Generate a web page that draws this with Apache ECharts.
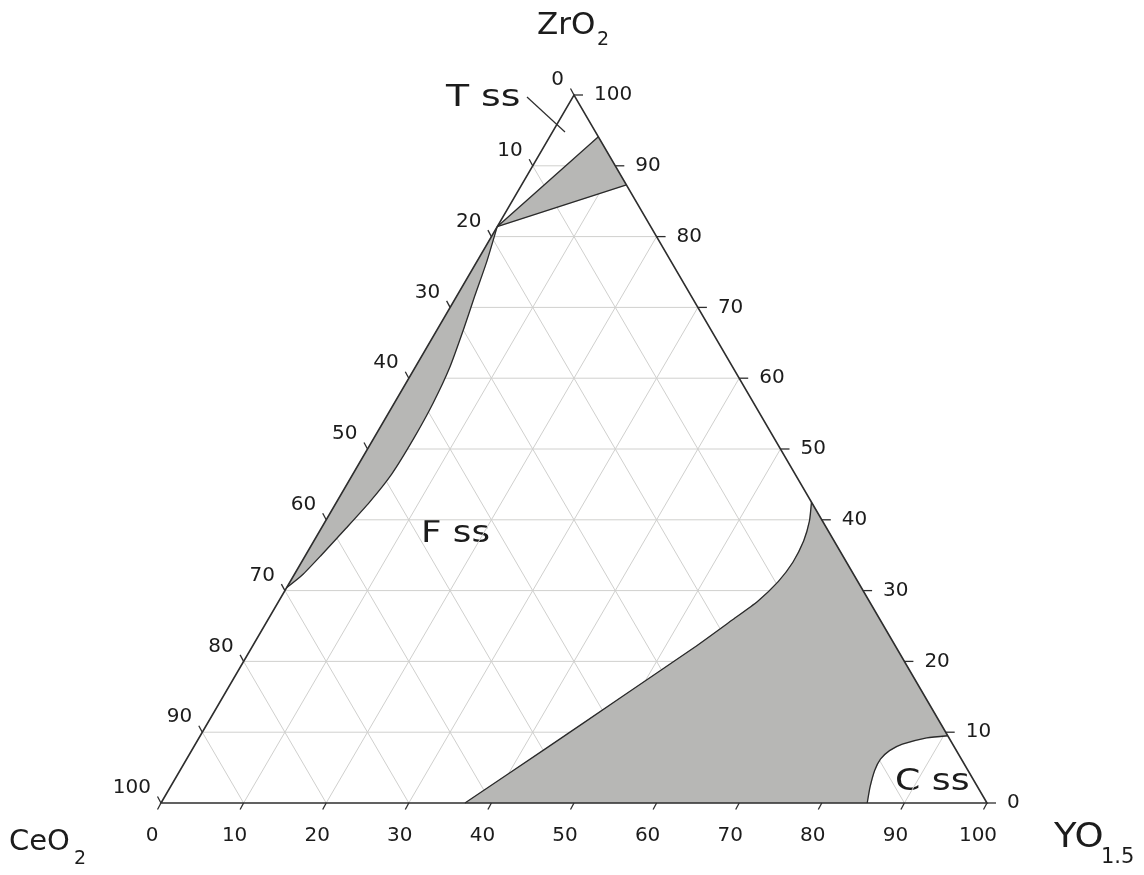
<!DOCTYPE html>
<html>
<head>
<meta charset="utf-8">
<script src="https://cdn.jsdelivr.net/npm/echarts@6/dist/echarts.min.js"></script>
<style>
  html, body { margin: 0; padding: 0; background: #ffffff; }
  #chart { width: 1144px; height: 875px; }
</style>
</head>
<body>
<div id="chart"></div>
<script>
// Axis ticks (mol %), shared by the three sides
const tickValues = [0, 10, 20, 30, 40, 50, 60, 70, 80, 90, 100];
const gridSteps = [10, 20, 30, 40, 50, 60, 70, 80, 90];

// Phase boundaries as [YO1.5, ZrO2] pairs (CeO2 is the remainder)
// T + F field near the ZrO2 corner
const tfUpper = [[0, 81.4], [5.9, 94.1]];
const tfLower = [[0, 81.4], [12.7, 87.3]];

// two-phase sliver along the CeO2–ZrO2 side
const sliverCurve = [
  [0, 81.4], [1.2, 76.5], [2.2, 71.5], [3.2, 66.8], [4.2, 61.5], [4.7, 56.5],
  [4.85, 51.5], [4.7, 46.5], [4.0, 42.5], [3.0, 38.8], [1.9, 35.0], [1.0, 32.2], [0, 30.4]
];

// F + C field towards YO1.5
const fcBoundary = [
  [36.8, 0], [42.6, 7.5], [48.3, 15.0], [53.6, 22.0], [56.2, 25.8], [58.0, 28.5],
  [59.1, 31.3], [59.5, 34.0], [59.3, 37.0], [58.6, 39.8], [57.5, 42.5]
];

// C ss single-phase field at the YO1.5 corner
const cssBoundary = [
  [90.5, 9.5], [88.1, 9.2], [85.6, 8.3], [84.5, 7.4], [84.0, 6.2],
  [84.1, 4.6], [84.7, 2.3], [85.5, 0]
];

const H = Math.sqrt(3) / 2;
// ternary (YO1.5, ZrO2) -> cartesian (x, y) in axis units
function tern(y, z) { return [y + z / 2, z * H]; }

// two-phase regions as closed outlines, plus their boundary lines
const regions = [
  { outline: [tfUpper[0], tfUpper[1], tfLower[1]], curves: [tfUpper, tfLower] },
  { outline: sliverCurve, curves: [sliverCurve] },
  { outline: fcBoundary.concat(cssBoundary), curves: [fcBoundary, cssBoundary] }
];

// grid lines: constant ZrO2, constant YO1.5, constant CeO2
const gridLines = [];
gridSteps.forEach(function (s) {
  gridLines.push(tern(0, s).concat(tern(100 - s, s)));
  gridLines.push(tern(s, 0).concat(tern(s, 100 - s)));
  gridLines.push(tern(100 - s, 0).concat(tern(0, 100 - s)));
});

const FONT = '"DejaVu Sans", Verdana, sans-serif';
const INK = '#1c1c1c';

const chart = echarts.init(document.getElementById('chart'), null, { renderer: 'canvas' });

chart.setOption({
  backgroundColor: '#ffffff',
  animation: false,
  grid: { left: 161, top: 95, width: 826, height: 708, containLabel: false },
  xAxis: { type: 'value', min: 0, max: 100, show: false },
  yAxis: { type: 'value', min: 0, max: 100 * H, show: false },
  series: [
    {
      type: 'custom',
      name: 'grid',
      z: 1,
      silent: true,
      data: gridLines,
      renderItem: function (params, api) {
        const a = api.coord([api.value(0), api.value(1)]);
        const b = api.coord([api.value(2), api.value(3)]);
        return {
          type: 'line',
          shape: { x1: a[0], y1: a[1], x2: b[0], y2: b[1] },
          style: { stroke: '#d0d0ce', lineWidth: 1 }
        };
      }
    },
    {
      type: 'custom',
      name: 'fields',
      z: 2,
      silent: true,
      data: regions.map(function (r, i) { return [i, 0]; }),
      renderItem: function (params, api) {
        const r = regions[params.dataIndex];
        const toPx = function (p) { return api.coord(tern(p[0], p[1])); };
        const children = [{
          type: 'polygon',
          shape: { points: r.outline.map(toPx) },
          style: { fill: '#b7b7b5', stroke: '#b7b7b5', lineWidth: 0.5 }
        }];
        r.curves.forEach(function (c) {
          children.push({
            type: 'polyline',
            shape: { points: c.map(toPx), smooth: 0.2 },
            style: { fill: null, stroke: '#2a2a2a', lineWidth: 1.3 }
          });
        });
        return { type: 'group', children: children };
      }
    },
    {
      type: 'custom',
      name: 'frame',
      z: 3,
      silent: true,
      data: [[0, 0]],
      renderItem: function (params, api) {
        return {
          type: 'polygon',
          shape: { points: [tern(0, 0), tern(100, 0), tern(0, 100)].map(function (p) { return api.coord(p); }) },
          style: { fill: null, stroke: '#2e2e2e', lineWidth: 1.6 }
        };
      }
    },
    {
      type: 'custom',
      name: 'axes',
      z: 4,
      silent: true,
      data: tickValues.map(function (v) { return [v, 0]; }),
      renderItem: function (params, api) {
        const v = api.value(0);
        const txt = String(v);
        const bottom = api.coord(tern(v, 0));         // YO1.5
        const right = api.coord(tern(100 - v, v));    // ZrO2
        const left = api.coord(tern(0, 100 - v));     // CeO2
        const tickStyle = { stroke: '#2e2e2e', lineWidth: 1.3 };
        const labelStyle = function (align) {
          return { text: txt, fill: INK, fontSize: 20, fontFamily: FONT, align: align, verticalAlign: 'middle' };
        };
        return {
          type: 'group',
          children: [
            { type: 'line', shape: { x1: bottom[0], y1: bottom[1], x2: bottom[0] - 3.5, y2: bottom[1] + 6.5 }, style: tickStyle },
            { type: 'text', x: bottom[0] - 9, y: bottom[1] + 33, style: labelStyle('center') },
            { type: 'line', shape: { x1: right[0], y1: right[1], x2: right[0] + 9, y2: right[1] }, style: tickStyle },
            { type: 'text', x: right[0] + 20, y: right[1], style: labelStyle('left') },
            { type: 'line', shape: { x1: left[0], y1: left[1], x2: left[0] - 3.5, y2: left[1] - 6.5 }, style: tickStyle },
            { type: 'text', x: left[0] - 10, y: left[1] - 15, style: labelStyle('right') }
          ]
        };
      }
    }
  ],
  graphic: [
    // component titles
    { type: 'text', x: 537, y: 10, style: { text: 'ZrO', fontSize: 31, fontFamily: FONT, fill: INK } },
    { type: 'text', x: 597, y: 31, style: { text: '2', fontSize: 19, fontFamily: FONT, fill: INK } },
    { type: 'text', x: 9, y: 828, style: { text: 'CeO', fontSize: 29, fontFamily: FONT, fill: INK } },
    { type: 'text', x: 74, y: 850, style: { text: '2', fontSize: 19, fontFamily: FONT, fill: INK } },
    { type: 'text', x: 1054, y: 822, scaleX: 1.12, style: { text: 'YO', fontSize: 33, fontFamily: FONT, fill: INK } },
    { type: 'text', x: 1101, y: 847, style: { text: '1.5', fontSize: 21, fontFamily: FONT, fill: INK } },
    // phase field labels
    { type: 'text', x: 446, y: 82, scaleX: 1.22, style: { text: 'T ss', fontSize: 31, fontFamily: FONT, fill: INK } },
    { type: 'line', shape: { x1: 527, y1: 97, x2: 565, y2: 132 }, style: { stroke: '#2e2e2e', lineWidth: 1.2 } },
    { type: 'text', x: 421, y: 518, scaleX: 1.15, style: { text: 'F ss', fontSize: 31, fontFamily: FONT, fill: INK } },
    { type: 'text', x: 895, y: 766, scaleX: 1.17, style: { text: 'C ss', fontSize: 31, fontFamily: FONT, fill: INK } }
  ]
});
</script>
</body>
</html>
